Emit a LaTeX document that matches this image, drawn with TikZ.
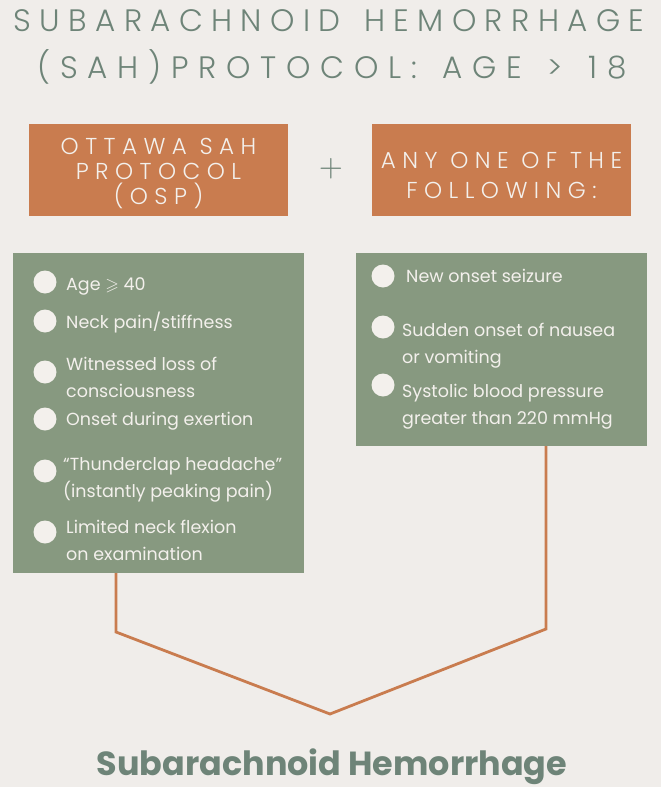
\documentclass[tikz,border=0pt]{standalone}
\usepackage{amssymb}
\usepackage{fontspec}
\setmainfont{Poppins}
\newfontfamily\titlefont[LetterSpace=27,WordSpace=1.4]{Poppins Light}
\newfontfamily\subtitlefont[LetterSpace=31.5,WordSpace=1.4]{Poppins Light}
\newfontfamily\boxfont[LetterSpace=28]{Poppins Light}
\newfontfamily\plusfont[Extension=.otf]{lmroman10-regular}
\definecolor{paper}{HTML}{F0EDEA}
\definecolor{sage}{HTML}{6E8478}
\definecolor{moss}{HTML}{879980}
\definecolor{rust}{HTML}{C97C4F}
\definecolor{chalk}{HTML}{F3F0EC}
\begin{document}
\begin{tikzpicture}[x=1pt,y=-1pt,
        dot/.style={circle,fill=chalk,minimum size=23pt,inner sep=0pt},
        entry/.style={anchor=base west,inner sep=0pt,align=left,text=chalk,
            font=\fontsize{17.5}{27}\selectfont},
        heading/.style={anchor=base,inner sep=0pt,text=sage},
        orangebox/.style={fill=rust,text=chalk,minimum width=259pt,
            minimum height=92pt,inner sep=0pt,align=center},
        listbox/.style={fill=moss,minimum width=291pt,inner sep=0pt}]
\useasboundingbox (0,0) rectangle (661,787);
\fill[paper] (0,0) rectangle (661,787);

	\node[heading,font=\titlefont\fontsize{31}{40}\selectfont] (titleA) at (329,31)
	    {SUBARACHNOID HEMORRHAGE};
	\node[heading,font=\subtitlefont\fontsize{31}{40}\selectfont] (titleB) at (332,78)
	    {(SAH)PROTOCOL: AGE > 18};

\node[orangebox,font=\boxfont\fontsize{23}{25}\selectfont] (osp) at (158.5,169.5)
    {\rule{0pt}{24pt}OTTAWA SAH\\PROTOCOL\\(OSP)};
\node[orangebox,font=\boxfont\fontsize{23}{30}\selectfont] (anyone) at (501.5,169.5)
    {\rule{0pt}{28pt}ANY ONE OF THE\\FOLLOWING:};
\node[text=sage,inner sep=0pt,font=\plusfont\fontsize{31}{31}\selectfont] (plus) at (331,169) {+};

% criteria boxes
\node[listbox,minimum height=320pt] (osplist) at (158.5,413) {};
\node[listbox,minimum height=193pt] (anylist) at (501.5,349.5) {};

\node[dot] (d1) at (45,282) {};
\node[entry] (e1) at (66,290) {Age $\geqslant$ 40};
\node[dot] (d2) at (45,321) {};
\node[entry] (e2) at (66,328) {Neck pain/stiffness};
\node[dot] (d3) at (45,372) {};
\node[entry] (e3) at (66,397) {Witnessed loss of\\consciousness};
\node[dot] (d4) at (45,419) {};
\node[entry] (e4) at (66,425) {Onset during exertion};
\node[dot] (d5) at (45,471) {};
\node[entry] (e5) at (63,497) {“Thunderclap headache”\\(instantly peaking pain)};
\node[dot] (d6) at (45,532) {};
\node[entry] (e6) at (66,560) {Limited neck flexion\\on examination};

\node[dot] (d7) at (383,276) {};
\node[entry] (e7) at (406,282) {New onset seizure};
\node[dot] (d8) at (383,327) {};
\node[entry] (e8) at (402,363) {Sudden onset of nausea\\or vomiting};
\node[dot] (d9) at (383,385) {};
\node[entry] (e9) at (402,424) {Systolic blood pressure\\greater than 220 mmHg};

% joining line
\coordinate (lcorner) at (116,632);
\coordinate (apex) at (330,714);
\coordinate (rcorner) at (546,629);
\draw[rust,line width=2.8pt,line join=miter]
    (osplist.south -| lcorner) -- (lcorner) -- (apex) -- (rcorner) -- (anylist.south -| rcorner);

\node[anchor=base,inner sep=0pt,text=sage,font=\bfseries\fontsize{33.4}{36}\selectfont]
    (result) at (332,775) {Subarachnoid Hemorrhage};
\end{tikzpicture}
\end{document}
